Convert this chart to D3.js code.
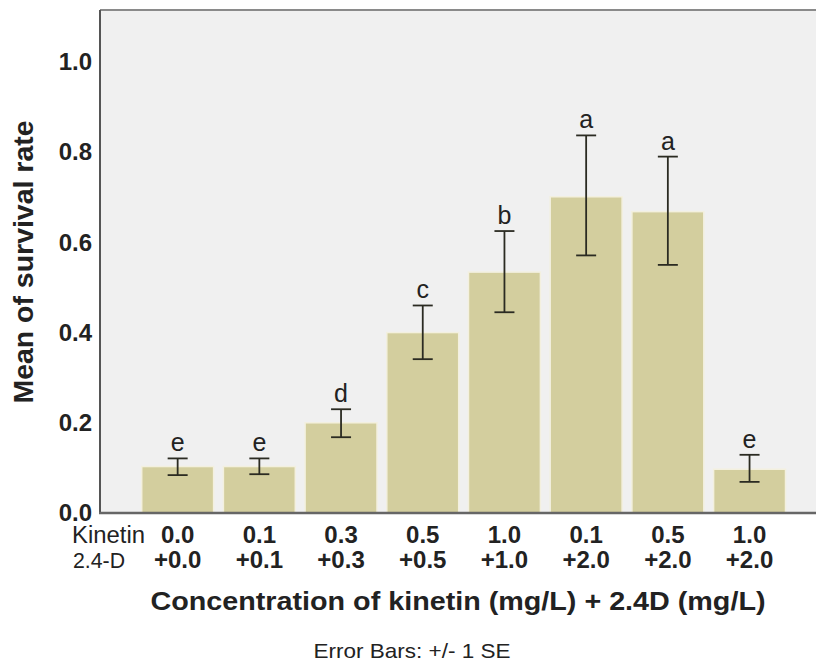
<!DOCTYPE html>
<html>

<head>
  <meta charset='utf-8'>
  <style>
    body { margin: 0; background: #fff; }
    text { font-family: 'Liberation Sans', Arial, sans-serif; fill: #222; }
  </style>
  <script src='https://cdn.jsdelivr.net/npm/d3@7'></script>
</head>

<body>

  <script>

    // data
    let kinetin = ['0.0', '0.1', '0.3', '0.5', '1.0', '0.1', '0.5', '1.0']
    let twoFourD = ['+0.0', '+0.1', '+0.3', '+0.5', '+1.0', '+2.0', '+2.0', '+2.0']
    let means = [0.103, 0.103, 0.200, 0.400, 0.534, 0.701, 0.668, 0.097]
    let errLow = [0.084, 0.086, 0.168, 0.341, 0.445, 0.571, 0.550, 0.069]
    let errHigh = [0.121, 0.121, 0.230, 0.460, 0.625, 0.837, 0.790, 0.129]
    let groups = ['e', 'e', 'd', 'c', 'b', 'a', 'a', 'e']
    let yTicks = [0, 0.2, 0.4, 0.6, 0.8, 1.0]

    let [width, height] = [816, 665]
    let plot = { left: 100, top: 10, right: 830, bottom: 513 }

    let svg = d3.select('body')
      .append('svg')
      .attr('width', width)
      .attr('height', height)

    let x = d3.scaleBand()
      .domain(d3.range(means.length))
      .range([136.8, 790.4])
      .paddingInner(0.12)
      .paddingOuter(0.06)

    let y = d3.scaleLinear([0, 1.115], [plot.bottom, plot.top])
    let cx = i => x(i) + x.bandwidth() / 2

    // plot background
    svg.append('rect')
      .attr('x', plot.left)
      .attr('y', plot.top)
      .attr('width', plot.right - plot.left)
      .attr('height', plot.bottom - plot.top)
      .attr('fill', '#f0f0f0')

    // bars
    svg.append('g')
      .selectAll('rect')
      .data(means)
      .join('rect')
      .attr('x', (d, i) => x(i))
      .attr('y', d => y(d))
      .attr('width', x.bandwidth())
      .attr('height', d => y(0) - y(d))
      .attr('fill', '#d3ce9e')
      .attr('stroke', '#f3f0df')
      .attr('stroke-width', 1.5)

    // error bars
    let eb = svg.append('g')
      .attr('stroke', '#2b2b22')
      .attr('stroke-width', 1.8)
      .selectAll('g')
      .data(means)
      .join('g')
      .attr('transform', (d, i) => `translate(${cx(i)},0)`)

    eb.append('line')
      .attr('y1', (d, i) => y(errLow[i]))
      .attr('y2', (d, i) => y(errHigh[i]))
    eb.append('line')
      .attr('x1', -10).attr('x2', 10)
      .attr('y1', (d, i) => y(errLow[i]))
      .attr('y2', (d, i) => y(errLow[i]))
    eb.append('line')
      .attr('x1', -10).attr('x2', 10)
      .attr('y1', (d, i) => y(errHigh[i]))
      .attr('y2', (d, i) => y(errHigh[i]))

    // significance letters
    svg.append('g')
      .selectAll('text')
      .data(groups)
      .join('text')
      .attr('x', (d, i) => cx(i))
      .attr('y', (d, i) => y(errHigh[i]) - 7)
      .attr('text-anchor', 'middle')
      .attr('font-size', 25)
      .text(d => d)

    // frame
    svg.append('line')
      .attr('x1', plot.left).attr('x2', plot.right)
      .attr('y1', plot.top).attr('y2', plot.top)
      .attr('stroke', '#8a8a8a').attr('stroke-width', 2)
    svg.append('line')
      .attr('x1', plot.left).attr('x2', plot.left)
      .attr('y1', plot.top).attr('y2', plot.bottom)
      .attr('stroke', '#555').attr('stroke-width', 2)
    svg.append('line')
      .attr('x1', plot.left - 1).attr('x2', plot.right)
      .attr('y1', plot.bottom).attr('y2', plot.bottom)
      .attr('stroke', '#666').attr('stroke-width', 2.5)

    // y axis labels
    let yAxis = d3.axisLeft(y)
      .tickValues(yTicks)
      .tickFormat(d3.format('.1f'))
      .tickSize(0)
      .tickPadding(8)
    svg.append('g')
      .attr('transform', `translate(${plot.left},0)`)
      .call(yAxis)
      .call(g => g.select('.domain').remove())
      .call(g => g.selectAll('text')
        .attr('font-family', "'Liberation Sans', Arial, sans-serif")
        .attr('font-size', 24)
        .attr('font-weight', 'bold')
        .attr('fill', '#222'))

    svg.append('text')
      .attr('transform', `translate(33,262) rotate(-90)`)
      .attr('text-anchor', 'middle')
      .attr('font-size', 27)
      .attr('font-weight', 'bold')
      .attr('textLength', 283)
      .attr('lengthAdjust', 'spacingAndGlyphs')
      .text('Mean of survival rate')

    // x category rows
    let rows = svg.append('g')
      .attr('text-anchor', 'middle')
      .attr('font-weight', 'bold')
      .attr('font-size', 24)
    rows.selectAll('.k')
      .data(kinetin)
      .join('text')
      .attr('class', 'k')
      .attr('x', (d, i) => cx(i))
      .attr('y', 543)
      .text(d => d)
    rows.selectAll('.t')
      .data(twoFourD)
      .join('text')
      .attr('class', 't')
      .attr('x', (d, i) => cx(i))
      .attr('y', 568)
      .text(d => d)

    svg.append('text')
      .attr('x', 72).attr('y', 543)
      .attr('font-size', 23)
      .attr('textLength', 73)
      .attr('lengthAdjust', 'spacingAndGlyphs')
      .text('Kinetin')
    svg.append('text')
      .attr('x', 73).attr('y', 568)
      .attr('font-size', 22)
      .attr('textLength', 52)
      .attr('lengthAdjust', 'spacingAndGlyphs')
      .text('2.4-D')

    svg.append('text')
      .attr('x', 458).attr('y', 610)
      .attr('text-anchor', 'middle')
      .attr('font-size', 25)
      .attr('font-weight', 'bold')
      .attr('textLength', 615)
      .attr('lengthAdjust', 'spacingAndGlyphs')
      .text('Concentration of kinetin (mg/L) + 2.4D (mg/L)')

    svg.append('text')
      .attr('x', 412).attr('y', 658)
      .attr('text-anchor', 'middle')
      .attr('font-size', 21)
      .attr('textLength', 197)
      .attr('lengthAdjust', 'spacingAndGlyphs')
      .text('Error Bars: +/- 1 SE')
  </script>
</body>

</html>
